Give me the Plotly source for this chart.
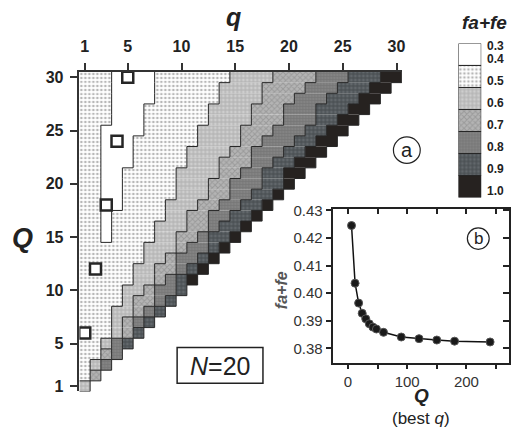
import plotly.graph_objects as go

W, H = 518, 437

# ---------------- data ----------------
Q_rows = list(range(1, 31))
# start q of level bands 3..7 for each row Q = 1..30
B3 = [1, 2, 2, 3, 3, 4, 4, 4, 5, 5, 6, 6, 7, 7, 8, 8, 9, 9, 10, 10, 10, 11, 11, 12, 12, 13, 13, 14, 14, 15]
B4 = [2, 2, 3, 3, 4, 5, 5, 6, 6, 7, 8, 8, 9, 10, 10, 11, 11, 12, 13, 13, 14, 14, 15, 16, 16, 17, 17, 18, 18, 19]
B5 = [2, 3, 3, 4, 4, 6, 6, 7, 8, 8, 9, 10, 10, 11, 12, 13, 13, 14, 15, 15, 16, 17, 17, 18, 19, 20, 20, 21, 22, 23]
B6 = [2, 3, 4, 5, 5, 6, 7, 8, 9, 10, 10, 11, 12, 13, 13, 14, 15, 16, 17, 18, 18, 19, 20, 21, 22, 23, 23, 24, 25, 26]
B7 = [2, 3, 4, 5, 6, 7, 8, 9, 10, 11, 11, 12, 13, 14, 15, 16, 17, 18, 19, 20, 20, 21, 22, 23, 24, 25, 26, 27, 28, 29]
# white band (0.3-0.4): first and last q per row (0 = none)
WS = [0] * 14 + [3, 3, 3, 3, 3, 3, 3, 3, 3, 3, 3, 4, 4, 4, 4, 4]
WE = [0] * 14 + [3, 3, 3, 4, 4, 4, 4, 5, 5, 5, 6, 6, 6, 7, 7, 7]

best_q = [1, 2, 3, 4, 5]
best_Q = [6, 12, 18, 24, 30]

q_ticks = [1, 5, 10, 15, 20, 25, 30]
Q_ticks = [1, 5, 10, 15, 20, 25, 30]

legend_labels = ["0.3", "0.4", "0.5", "0.6", "0.7", "0.8", "0.9", "1.0"]

inset_Q = [6, 12, 18, 24, 30, 36, 42, 48, 60, 90, 120, 150, 180, 240]
inset_f = [0.4245, 0.4036, 0.3964, 0.3927, 0.3907, 0.3889, 0.3877, 0.3870,
           0.3858, 0.3841, 0.3835, 0.3830, 0.3826, 0.3823]
inset_xticks = [0, 50, 100, 150, 200, 250]
inset_xtext = ["0", "", "100", "", "200", ""]
inset_yticks = [0.38, 0.39, 0.40, 0.41, 0.42, 0.43]

FONT = "Liberation Sans, Arial, sans-serif"

# ---------------- styles per level ----------------
styles = {
    1: dict(color="#ffffff", pattern=dict(shape="")),
    2: dict(color="#ffffff", pattern=dict(shape=".", fgcolor="#707070", bgcolor="#ffffff", size=4, solidity=0.35)),
    3: dict(color="#c2c2c2", pattern=dict(shape="+", fgcolor="#949494", bgcolor="#cecece", size=4, solidity=0.5)),
    4: dict(color="#a4a4a4", pattern=dict(shape="x", fgcolor="#808080", bgcolor="#b4b4b4", size=4, solidity=0.45)),
    5: dict(color="#7a7a7a", pattern=dict(shape="+", fgcolor="#666666", bgcolor="#838383", size=3, solidity=0.4)),
    6: dict(color="#4e5357", pattern=dict(shape="+", fgcolor="#2c3134", bgcolor="#62676b", size=4, solidity=0.5)),
    7: dict(color="#262220", pattern=dict(shape="")),
}


def level(q, Q):
    i = Q - 1
    if WS[i] and WS[i] <= q <= WE[i]:
        return 1
    if q < B3[i]:
        return 2
    if q < B4[i]:
        return 3
    if q < B5[i]:
        return 4
    if q < B6[i]:
        return 5
    if q < B7[i]:
        return 6
    return 7


lv = {Q: [level(q, Q) for q in range(1, Q + 1)] for Q in Q_rows}

fig = go.Figure()

# ---------------- main triangular map (bars per run) ----------------
segs = {L: dict(y=[], base=[], x=[]) for L in range(1, 8)}
for Q in Q_rows:
    row = lv[Q]
    start = 1
    for q in range(2, Q + 2):
        if q == Q + 1 or row[q - 1] != row[start - 1]:
            L = row[start - 1]
            segs[L]["y"].append(Q)
            segs[L]["base"].append(start - 0.5)
            segs[L]["x"].append(q - start)
            start = q

for L in range(1, 8):
    s = styles[L]
    fig.add_trace(go.Bar(
        orientation="h", y=segs[L]["y"], x=segs[L]["x"], base=segs[L]["base"],
        width=1.0, xaxis="x", yaxis="y",
        marker=dict(color=s["color"], pattern=s["pattern"], line=dict(width=0)),
        showlegend=False, hoverinfo="skip"))

# boundaries between levels
ex, ey = [], []


def seg(x0, y0, x1, y1):
    ex.extend([x0, x1, None])
    ey.extend([y0, y1, None])


for Q in Q_rows:
    row = lv[Q]
    for q in range(1, Q + 1):
        L = row[q - 1]
        right = row[q] if q < Q else None
        if right != L:
            seg(q + 0.5, Q - 0.5, q + 0.5, Q + 0.5)
        if Q < 30 and lv[Q + 1][q - 1] != L:
            seg(q - 0.5, Q + 0.5, q + 0.5, Q + 0.5)
        if q == Q:
            seg(q - 0.5, Q - 0.5, q + 0.5, Q - 0.5)

fig.add_trace(go.Scatter(x=ex, y=ey, mode="lines", line=dict(color="#262626", width=1),
                         xaxis="x", yaxis="y", showlegend=False, hoverinfo="skip"))

fig.add_trace(go.Scatter(x=best_q, y=best_Q, mode="markers",
                         marker=dict(symbol="square", size=11, color="#ffffff",
                                     line=dict(color="#262626", width=2.5)),
                         xaxis="x", yaxis="y", showlegend=False, hoverinfo="skip"))

# ---------------- legend (colour key) ----------------
for L in range(1, 8):
    s = styles[L]
    fig.add_trace(go.Bar(
        x=[0], y=[1], base=[7 - L], width=[1.0], xaxis="x3", yaxis="y3",
        marker=dict(color=s["color"], pattern=s["pattern"], line=dict(width=1, color="#262626")),
        showlegend=False, hoverinfo="skip"))

# ---------------- inset ----------------
fig.add_trace(go.Scatter(x=inset_Q, y=inset_f, mode="lines+markers",
                         line=dict(color="#111111", width=1.5),
                         marker=dict(size=8, color="#1a1a1a", line=dict(color="#555555", width=1)),
                         xaxis="x2", yaxis="y2", showlegend=False, hoverinfo="skip"))
fig.add_trace(go.Scatter(x=[inset_Q[0]], y=[inset_f[0]], mode="markers", opacity=0,
                         xaxis="x4", yaxis="y4", showlegend=False, hoverinfo="skip"))


def px(x):
    return x / W


def py(y):
    return 1 - y / H


ax_main = dict(showgrid=False, zeroline=False, showline=True, linecolor="#333333", linewidth=1.5,
               ticks="outside", tickcolor="#333333", tickwidth=1.5,
               tickfont=dict(family=FONT, size=16, color="#222222", weight="bold"))

inset_x = [-24.6, 272]
inset_y = [0.3748, 0.4305]
ax_in = dict(showgrid=False, zeroline=False, showline=True, linecolor="#222222", linewidth=1.5,
             tickcolor="#222222", tickwidth=1.5,
             tickfont=dict(family=FONT, size=15, color="#333333"))

fig.update_layout(
    width=W, height=H, margin=dict(l=0, r=0, t=0, b=0),
    paper_bgcolor="white", plot_bgcolor="rgba(0,0,0,0)",
    barmode="overlay", showlegend=False,
    xaxis=dict(ax_main, domain=[px(80), px(405)], range=[0.5, 30.5], side="top",
               tickvals=q_ticks, ticklen=7, anchor="y", ticklabelstandoff=5),
    yaxis=dict(ax_main, domain=[py(393.5), py(66.5)], range=[0.5, 30.5],
               tickvals=Q_ticks, ticklen=8, anchor="x", ticklabelstandoff=3),
    xaxis2=dict(ax_in, domain=[px(336), px(513)], range=inset_x, anchor="y2",
                tickvals=inset_xticks, ticktext=inset_xtext, ticks="outside", ticklen=5, mirror=True),
    yaxis2=dict(ax_in, domain=[py(364), py(206.7)], range=inset_y, anchor="x2",
                tickvals=inset_yticks, tickformat=".2f", ticks="outside", ticklen=6, mirror=True),
    xaxis4=dict(overlaying="x2", side="top", anchor="y4", range=inset_x, tickvals=inset_xticks,
                ticks="inside", ticklen=5, tickwidth=1.5, tickcolor="#222222",
                showticklabels=False, showgrid=False, zeroline=False, showline=False),
    yaxis4=dict(overlaying="y2", side="right", anchor="x4", range=inset_y, tickvals=inset_yticks,
                ticks="inside", ticklen=6, tickwidth=1.5, tickcolor="#222222",
                showticklabels=False, showgrid=False, zeroline=False, showline=False),
    xaxis3=dict(domain=[px(462), px(485)], range=[-0.5, 0.5], visible=False, anchor="y3"),
    yaxis3=dict(domain=[py(195), py(37.3)], range=[0, 7], visible=False, anchor="x3"),
)

# white background for the inset plot area
shapes = [dict(type="rect", xref="paper", yref="paper", x0=px(336), x1=px(513), y0=py(364), y1=py(206.7),
               fillcolor="white", line=dict(width=0), layer="below")]
shapes.append(dict(type="circle", xref="paper", yref="paper", x0=px(396.5), x1=px(423.5),
                   y0=py(160), y1=py(133), line=dict(color="#222222", width=1.2)))
shapes.append(dict(type="circle", xref="paper", yref="paper", x0=px(471), x1=px(493),
                   y0=py(248), y1=py(226), line=dict(color="#222222", width=1.2)))
shapes.append(dict(type="rect", xref="paper", yref="paper", x0=px(178.5), x1=px(265),
                   y0=py(385), y1=py(348.5), line=dict(color="#222222", width=1.5)))
fig.update_layout(shapes=shapes)

ann = []


def text(x, y, t, size, color="#222222", angle=0, xanchor="center", yanchor="middle", xref="paper", yref="paper"):
    ann.append(dict(x=x, y=y, xref=xref, yref=yref, text=t, showarrow=False, textangle=angle,
                    xanchor=xanchor, yanchor=yanchor,
                    font=dict(family=FONT, size=size, color=color)))


text(px(235), py(10), "<b><i>q</i></b>", 25)
text(px(23), py(236), "<b><i>Q</i></b>", 27)
text(px(488), py(15.5), "<b><i>fa+fe</i></b>", 19)
# legend labels: 0.3 at the top, others just above each box boundary
for k, lab in enumerate(legend_labels):
    yv = 7 - k + (0.31 if k > 0 else -0.1)
    text(px(499), yv, "<b>" + lab + "</b>", 12, yref="y3")
text(px(284), py(290), "<b><i>fa+fe</i></b>", 16, color="#555555", angle=-90)
text(px(425), py(398), "<b><i>Q</i></b>", 19)
text(px(424), py(421), "(best <i>q</i>)", 17)
text(px(410), py(146.5), "a", 20)
text(px(482), py(237), "b", 17)
text(px(221.7), py(367), "<i>N</i>=20", 25)
fig.update_layout(annotations=ann)

fig.write_html("out.html", config={"displayModeBar": False},
               post_script="document.body.style.margin='0';")
